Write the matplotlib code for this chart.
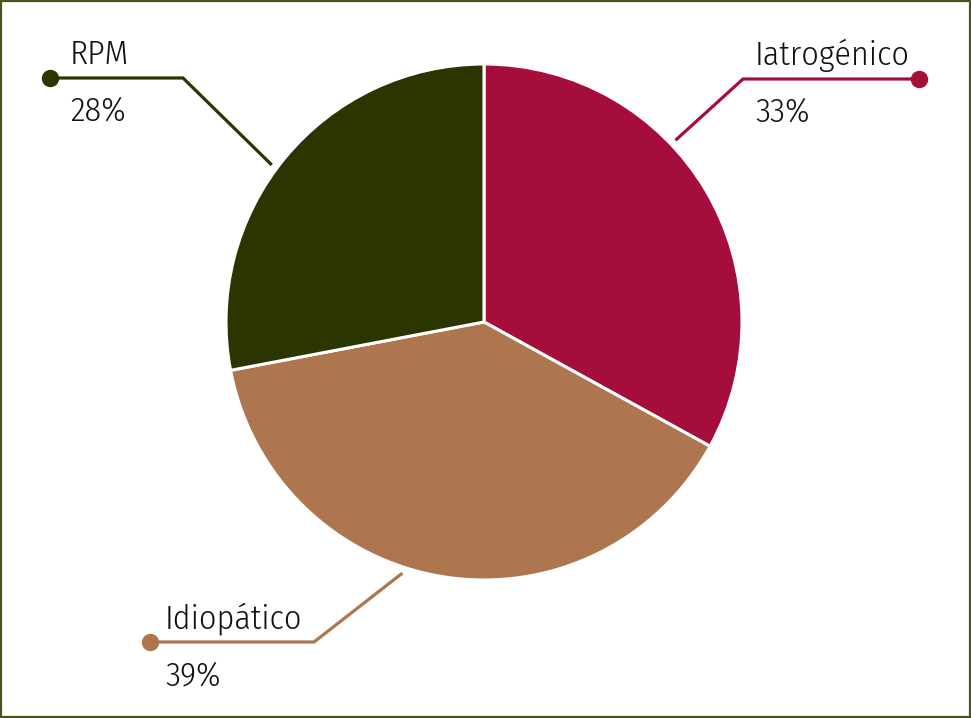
#!/usr/bin/env python3

"""
Pie chart of causes: Iatrogénico / Idiopático / RPM with leader-line labels.
"""

import numpy as np
import matplotlib
matplotlib.use("Agg")
import matplotlib.pyplot as plt
from matplotlib.patches import Rectangle

labels = ["Iatrogénico", "Idiopático", "RPM"]
values = [33, 39, 28]
colors = ["#a50d3a", "#ad764f", "#2b3500"]

W, H = 971, 718
CX, CY, R = 484, 718 - 322, 258

# leader lines: anchor angle on the pie, elbow, dot, and text placement (pixels, y from top)
leaders = {
    "Iatrogénico": dict(angle=43.5, elbow=(743, 79), dot=(919, 79), tx=755),
    "Idiopático": dict(angle=-108, elbow=(314, 642), dot=(150, 642), tx=165),
    "RPM": dict(angle=143.5, elbow=(183, 78), dot=(50, 78), tx=70),
}


def main():
    plt.rcParams["font.family"] = ["Fira Sans Condensed", "DejaVu Sans"]
    fig = plt.figure(figsize=(W / 100, H / 100), dpi=100)
    ax = fig.add_axes([0, 0, 1, 1])

    ax.pie(values, colors=colors, startangle=90, counterclock=False,
           center=(CX, CY), radius=R, frame=True,
           wedgeprops=dict(edgecolor="white", linewidth=2.2))
    ax.set_xlim(0, W)
    ax.set_ylim(0, H)
    ax.set_aspect("auto")
    ax.axis("off")

    for lab, val, col in zip(labels, values, colors):
        ld = leaders[lab]
        a = np.deg2rad(ld["angle"])
        x0 = CX + (R + 6) * np.cos(a)
        y0 = CY + (R + 6) * np.sin(a)
        ex, ey = ld["elbow"]
        dx, dy = ld["dot"]
        ax.plot([x0, ex, dx], [y0, H - ey, H - dy], color=col, lw=2.3,
                solid_joinstyle="miter", solid_capstyle="butt")
        ax.plot([dx], [H - dy], "o", color=col, ms=11.5)
        ax.text(ld["tx"], H - dy + 14, lab, fontsize=24.5, weight=300,
                ha="left", va="baseline", color="#111111")
        ax.text(ld["tx"], H - dy - 43, f"{val}%", fontsize=24.5, weight=300,
                ha="left", va="baseline", color="#111111")

    fig.patches.append(Rectangle((0.001, 0.0015), 0.998, 0.997, transform=fig.transFigure,
                                 fill=False, edgecolor="#4a5320", linewidth=1.6))
    fig.savefig("out.png", dpi=100, facecolor="white")


if __name__ == "__main__":
    main()
